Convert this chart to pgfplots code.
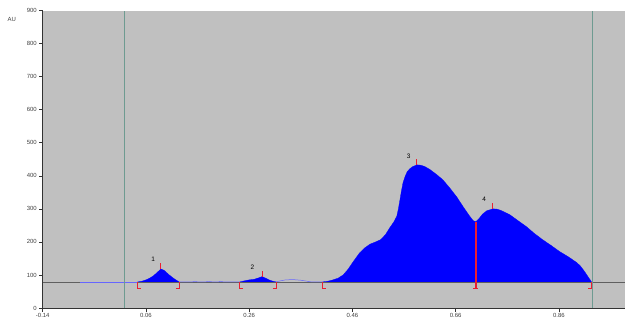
\documentclass[border=0pt]{standalone}
\usepackage{pgfplots}
\pgfplotsset{compat=1.18}
\usepackage{fontspec}
\setmainfont{Liberation Sans}
\definecolor{bg}{RGB}{192,192,192}
\definecolor{vline}{RGB}{110,155,145}
\definecolor{base}{RGB}{95,95,95}
\definecolor{mk}{RGB}{235,30,50}
\definecolor{pk}{RGB}{0,0,255}
\begin{document}
\begin{tikzpicture}[x=1bp,y=1bp]
\begin{axis}[at={(0,0)}, anchor=south west,
  width=582.25bp, height=297.5bp, scale only axis,
  xmin=-0.14, xmax=0.988, ymin=0, ymax=900,
  axis x line*=bottom, axis y line*=left,
  axis line style={black!80, line width=0.8pt},
  xtick={-0.14,0.06,0.26,0.46,0.66,0.86},
  xticklabels={-0.14,0.06,0.26,0.46,0.66,0.86},
  ytick={0,100,200,300,400,500,600,700,800,900},
  tick align=outside, major tick length=3.5bp,
  tick style={black!80, line width=0.5pt},
  tick label style={font=\fontsize{6}{6}\selectfont, text=black!75},
  xticklabel style={yshift=1.5bp},
  yticklabel style={xshift=1bp},
  /pgf/number format/assume math mode=true,
  axis background/.style={fill=bg},
  clip=false]
% baseline
\addplot[base, line width=0.7pt] coordinates {(-0.14,79) (0.988,79)};
% peak areas
\addplot[fill=pk, draw=pk, line width=0.3pt] coordinates {
(0.044,79) (0.052,81) (0.06,85) (0.068,91) (0.075,98) (0.082,108) (0.089,118)
(0.095,114) (0.10,107) (0.105,100) (0.11,94) (0.114,89) (0.118,85) (0.121,82) (0.124,79)};
\addplot[fill=pk, draw=pk, line width=0.3pt] coordinates {
(0.242,79) (0.25,82) (0.26,85) (0.27,87) (0.278,91) (0.285,95) (0.292,90) (0.30,84) (0.306,81) (0.312,79)};
\addplot[fill=pk, draw=pk, line width=0.3pt] coordinates {
(0.402,79) (0.412,81) (0.42,84) (0.432,90) (0.442,100) (0.452,118) (0.461,139) (0.474,167)
(0.484,182) (0.494,193) (0.505,200) (0.515,207) (0.524,222) (0.532,242) (0.540,260)
(0.546,278) (0.549,300) (0.552,327) (0.555,355) (0.558,379) (0.562,398) (0.566,412)
(0.571,421) (0.577,428) (0.585,433) (0.592,432) (0.600,428) (0.610,419) (0.622,405)
(0.635,388) (0.648,364) (0.662,336) (0.675,305) (0.687,278) (0.694,264) (0.699,261)
(0.705,270) (0.712,284) (0.720,294) (0.732,300) (0.740,299) (0.748,295) (0.765,282)
(0.780,265) (0.797,246) (0.812,226) (0.828,207) (0.845,189) (0.861,171) (0.878,155)
(0.894,138) (0.901,128) (0.906,118) (0.912,105) (0.917,93) (0.921,84) (0.923,79)};
% blue trace on baseline
\addplot[pk!60, line width=0.5pt] coordinates {(-0.068,79) (0.044,79)};
\addplot[pk!60, line width=0.5pt] coordinates {(0.124,79) (0.15,79) (0.155,81) (0.16,79) (0.175,79) (0.18,80.5) (0.19,79) (0.2,79) (0.205,81) (0.21,79) (0.242,79)};
\addplot[pk!60, line width=0.5pt] coordinates {(0.312,79) (0.32,82) (0.33,85) (0.345,86) (0.36,84) (0.372,81) (0.38,79) (0.402,79)};
% vertical lines
\addplot[vline, line width=1pt] coordinates {(0.019,0) (0.019,900)};
\addplot[vline, line width=1pt] coordinates {(0.925,0) (0.925,900)};
% peak start/end brackets
\addplot[mk, line width=1bp] coordinates {(0.050,58) (0.044,58) (0.044,79)};
\addplot[mk, line width=1bp] coordinates {(0.118,58) (0.124,58) (0.124,79)};
\addplot[mk, line width=1bp] coordinates {(0.248,58) (0.242,58) (0.242,79)};
\addplot[mk, line width=1bp] coordinates {(0.306,58) (0.312,58) (0.312,79)};
\addplot[mk, line width=1bp] coordinates {(0.408,58) (0.402,58) (0.402,79)};
\addplot[mk, line width=1bp] coordinates {(0.917,58) (0.923,58) (0.923,79)};
\addplot[mk, line width=1.4bp] coordinates {(0.699,261) (0.699,58)};
\addplot[mk, line width=1bp] coordinates {(0.694,58) (0.704,58)};
% apex ticks
\addplot[mk, line width=1bp] coordinates {(0.089,118) (0.089,135)};
\addplot[mk, line width=1bp] coordinates {(0.285,95) (0.285,112)};
\addplot[mk, line width=1bp] coordinates {(0.585,433) (0.585,452)};
\addplot[mk, line width=1bp] coordinates {(0.732,300) (0.732,318)};
% labels
\node[font=\fontsize{6.5}{6.5}\selectfont] at (axis cs:0.074,147) {1};
\node[font=\fontsize{6.5}{6.5}\selectfont] at (axis cs:0.266,124) {2};
\node[font=\fontsize{6.5}{6.5}\selectfont] at (axis cs:0.569,460) {3};
\node[font=\fontsize{6.5}{6.5}\selectfont] at (axis cs:0.715,330) {4};
\node[font=\fontsize{6}{6}\selectfont, text=black!75] at (rel axis cs:0,1) [xshift=-31bp, yshift=-9bp] {AU};
\end{axis}
\pgfresetboundingbox
\path[use as bounding box] (-42.75bp,-12bp) rectangle (582.25bp,308bp);
\end{tikzpicture}
\end{document}
